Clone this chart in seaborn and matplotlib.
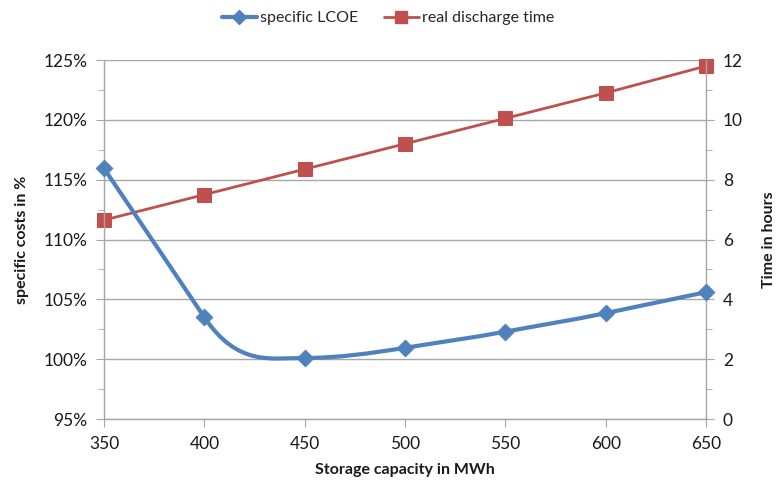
import matplotlib
matplotlib.use("Agg")
import matplotlib.pyplot as plt
import seaborn as sns
import numpy as np
import pandas as pd
from matplotlib.path import Path
from matplotlib.patches import PathPatch
from matplotlib.lines import Line2D
from matplotlib.ticker import PercentFormatter, MultipleLocator

# Datos
capacity = [350, 400, 450, 500, 550, 600, 650]
lcoe = [115.95, 103.5, 100.1, 100.95, 102.3, 103.85, 105.6]
discharge = [6.65, 7.5, 8.35, 9.2, 10.05, 10.9, 11.8]

df = pd.DataFrame({'capacity': capacity, 'lcoe': lcoe, 'discharge': discharge})

blue = '#4F81BD'
red = '#C0504D'
grid_col = '#A6A6A6'
text_col = '#1a1a1a'

sns.set_style("white")
plt.rcParams['font.family'] = ['Lato', 'DejaVu Sans']
plt.rcParams['font.size'] = 11.5

fig = plt.figure(figsize=(7.76, 4.82), dpi=100)
ax = fig.add_axes([0.134, 0.1307, 0.776, 0.7448])
ax2 = ax.twinx()

# eje derecho abajo (con la rejilla), eje izquierdo encima
ax.set_zorder(ax2.get_zorder() + 1)
ax.patch.set_visible(False)

# tiempo de descarga (eje derecho)
sns.lineplot(data=df, x='capacity', y='discharge', ax=ax2, color=red, lw=2.0,
             marker='s', markersize=9.5, markeredgecolor=red, legend=False, clip_on=False)

# LCOE suavizado: curva Bezier, pendiente 0 en extremos locales,
# pendiente del tramo mas inclinado en los demas puntos
x = np.array(capacity, dtype=float)
y = np.array(lcoe, dtype=float)
seg = np.diff(y) / np.diff(x)
m = np.zeros_like(y)
m[0], m[-1] = seg[0], seg[-1]
for i in range(1, len(y) - 1):
    a, b = seg[i - 1], seg[i]
    if a * b > 0:
        m[i] = a if abs(a) > abs(b) else b
verts = [(x[0], y[0])]
codes = [Path.MOVETO]
for i in range(len(x) - 1):
    h = x[i + 1] - x[i]
    verts += [(x[i] + h / 3, y[i] + m[i] * h / 3),
              (x[i + 1] - h / 3, y[i + 1] - m[i + 1] * h / 3),
              (x[i + 1], y[i + 1])]
    codes += [Path.CURVE4] * 3
ax.add_patch(PathPatch(Path(verts, codes), facecolor='none', edgecolor=blue,
                       lw=3.0, capstyle='round', joinstyle='round'))
sns.scatterplot(data=df, x='capacity', y='lcoe', ax=ax, color=blue, marker='D',
                s=75, edgecolor=blue, linewidth=0.5, legend=False, zorder=3, clip_on=False)

# ejes
ax.set_xlim(350, 650)
ax.set_ylim(95, 125)
ax2.set_ylim(0, 12)
ax.xaxis.set_major_locator(MultipleLocator(50))
ax.yaxis.set_major_locator(MultipleLocator(5))
ax.yaxis.set_minor_locator(MultipleLocator(2.5))
ax.yaxis.set_major_formatter(PercentFormatter(decimals=0))
ax2.yaxis.set_major_locator(MultipleLocator(2))
ax2.yaxis.set_minor_locator(MultipleLocator(1))

ax2.grid(True, axis='y', color=grid_col, lw=1.0)
ax.grid(False)
ax2.xaxis.grid(False)

for a in (ax, ax2):
    for s in a.spines.values():
        s.set_visible(False)
ax.spines['left'].set_visible(True)
ax.spines['bottom'].set_visible(True)
ax2.spines['right'].set_visible(True)
for s in (ax.spines['left'], ax.spines['bottom'], ax2.spines['right']):
    s.set_color(grid_col)
    s.set_linewidth(1.0)

ax.tick_params(axis='both', which='major', length=6, color=grid_col, labelcolor=text_col,
               labelsize=12.5, left=True, bottom=True, pad=6)
ax.tick_params(axis='y', which='minor', length=4, color=grid_col, left=True)
ax2.tick_params(axis='y', which='major', length=6, color=grid_col, labelcolor=text_col,
                labelsize=12.5, right=True, pad=6)
ax2.tick_params(axis='y', which='minor', length=4, color=grid_col, right=True)

ax.set_xlabel('Storage capacity in MWh', fontsize=11.5, fontweight='bold', color=text_col, labelpad=8)
ax.set_ylabel('specific costs in %', fontsize=11.5, fontweight='bold', color=text_col, labelpad=10)
ax2.set_ylabel('Time in hours', fontsize=11.5, fontweight='bold', color=text_col, labelpad=14)

# leyenda arriba
handles = [
    Line2D([], [], color=blue, lw=3, marker='D', markersize=7),
    Line2D([], [], color=red, lw=2, marker='s', markersize=8),
]
fig.legend(handles, ['specific LCOE', 'real discharge time'], loc='center',
           bbox_to_anchor=(0.5, 0.962), ncol=2, frameon=False, fontsize=11.5,
           handlelength=2.2, handletextpad=0.2, columnspacing=1.6)

plt.savefig('out.png', dpi=100)
